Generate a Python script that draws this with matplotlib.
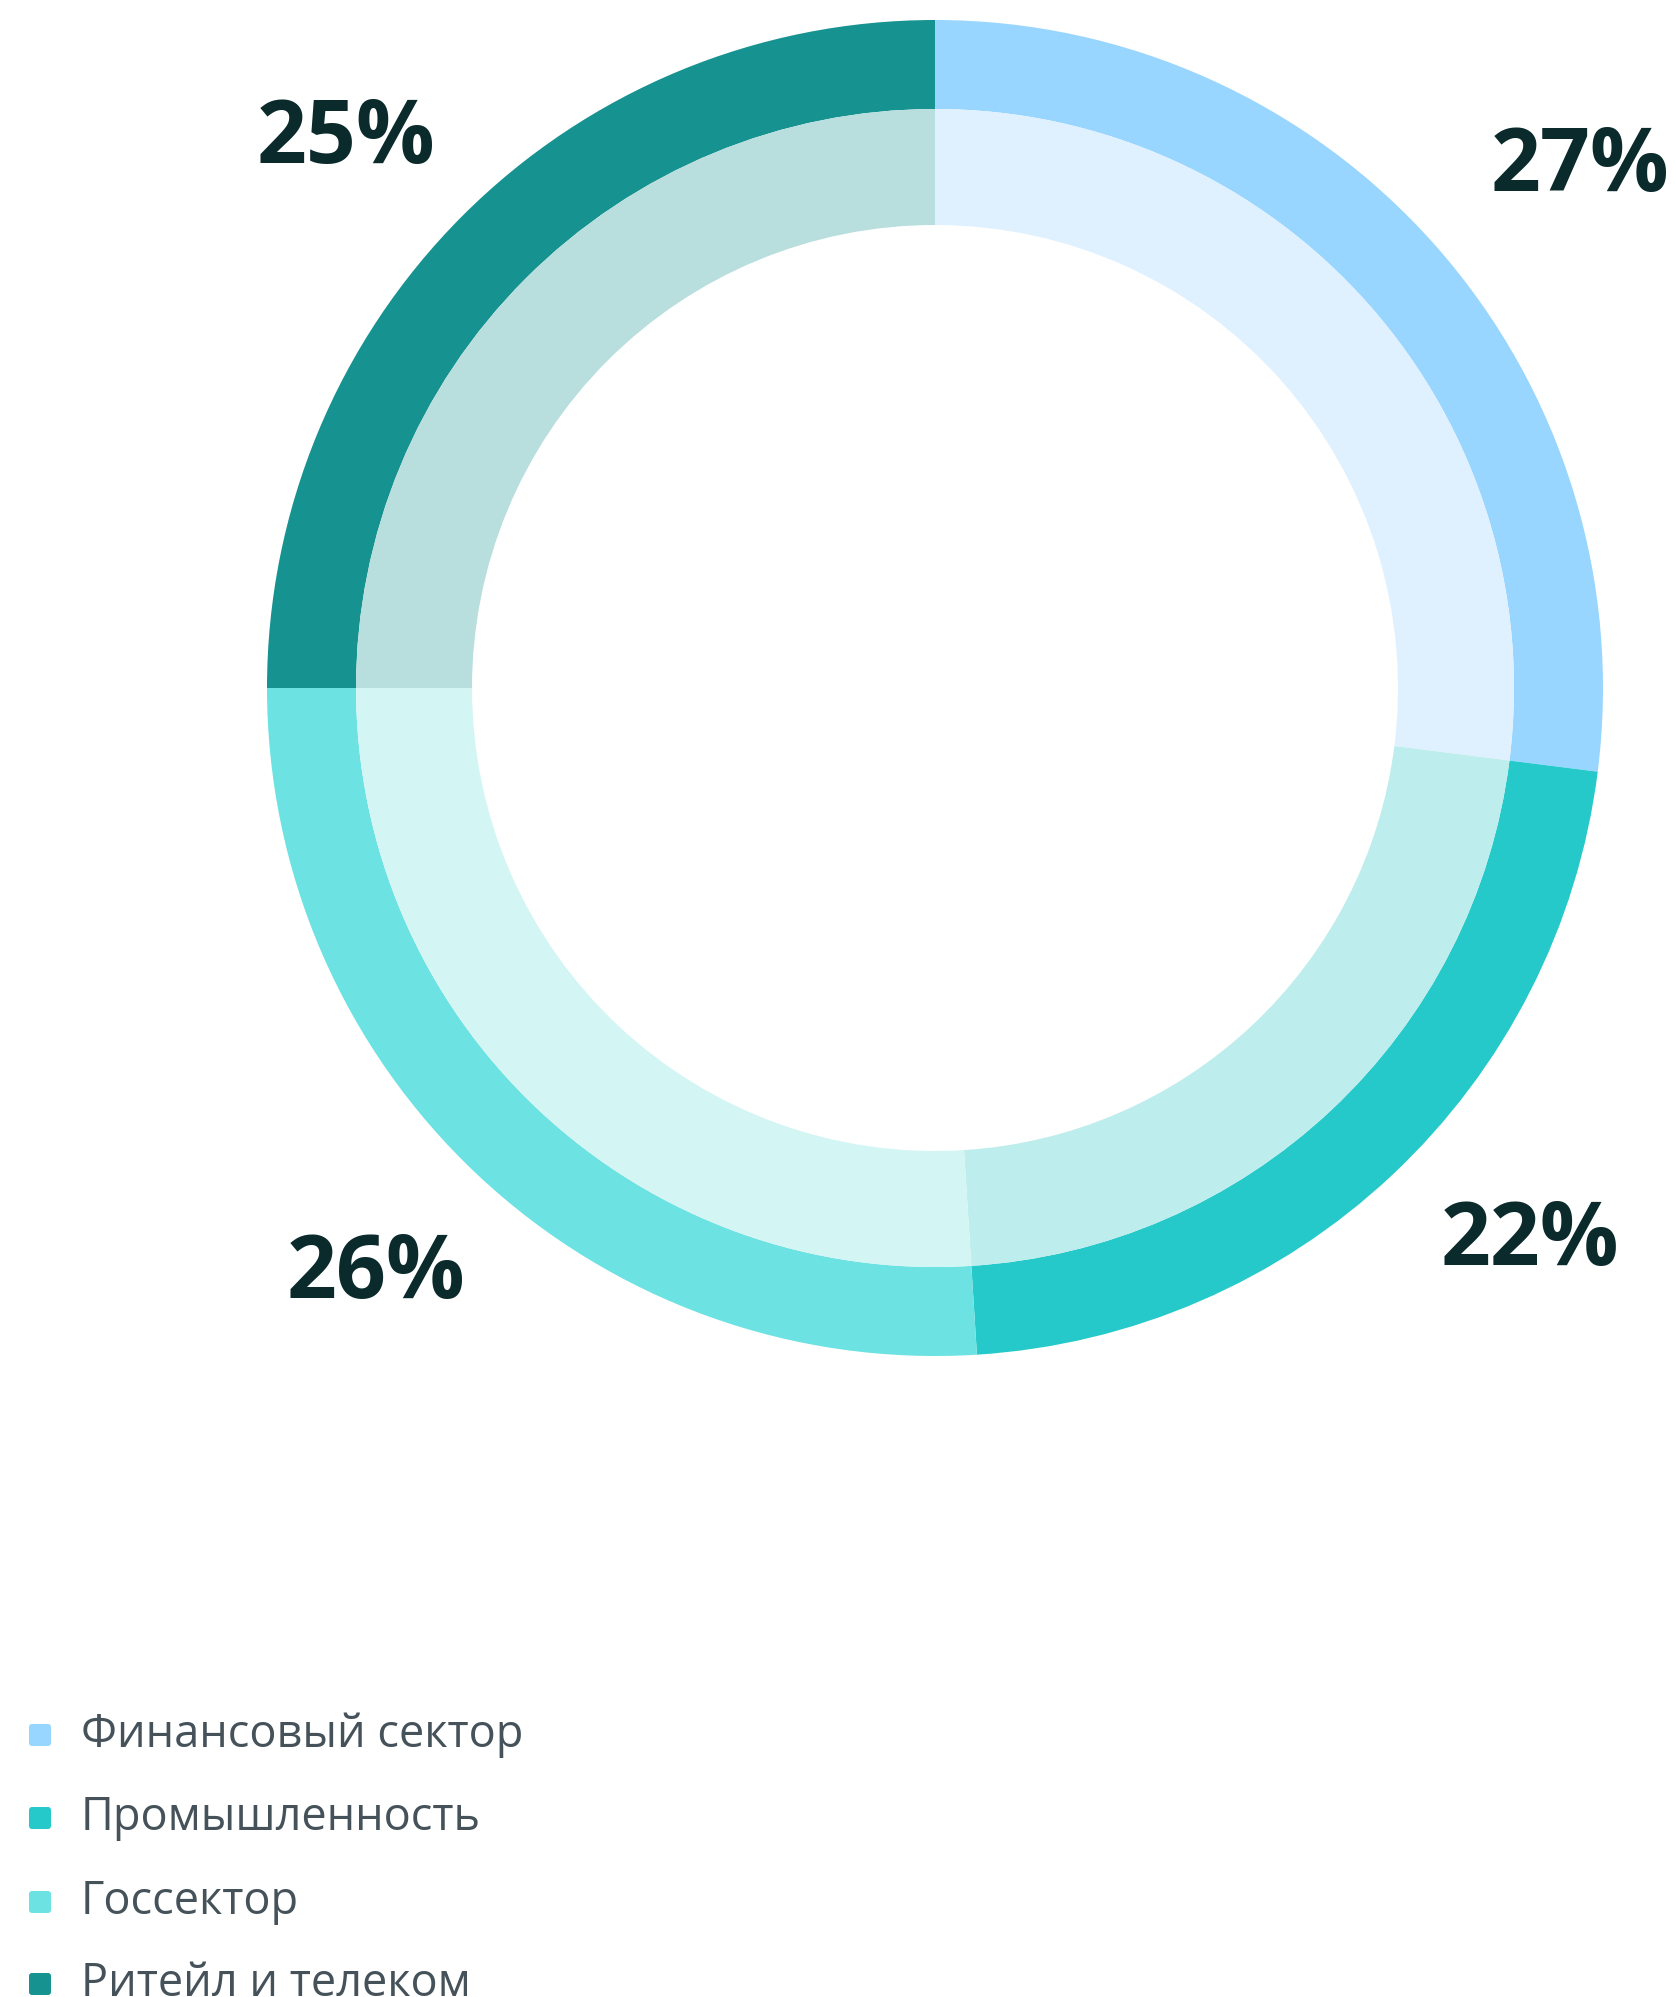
import matplotlib
matplotlib.use("Agg")
import matplotlib.pyplot as plt
from matplotlib.patches import FancyBboxPatch

categories = ["Финансовый сектор", "Промышленность", "Госсектор", "Ритейл и телеком"]
values = [27, 22, 26, 25]
labels = ["27%", "22%", "26%", "25%"]
outer_colors = ["#99D6FF", "#26C9C9", "#6CE2E2", "#169290"]
inner_colors = ["#DFF1FE", "#BDEDEC", "#D3F5F4", "#B8DFDE"]

W, H = 1676, 1997
fig = plt.figure(figsize=(W / 100, H / 100), dpi=100)
ax = fig.add_axes([0, 0, 1, 1])

cx, cy = 935, 1309
R_out, R_mid, R_in = 668, 579, 463

ax.pie(values, radius=R_out, center=(cx, cy), startangle=90, counterclock=False,
       colors=outer_colors, wedgeprops=dict(width=R_out - R_mid, linewidth=0), frame=True)
ax.pie(values, radius=R_mid, center=(cx, cy), startangle=90, counterclock=False,
       colors=inner_colors, wedgeprops=dict(width=R_mid - R_in, linewidth=0), frame=True)
ax.set_xlim(0, W)
ax.set_ylim(0, H)
ax.set_aspect("equal")
ax.axis("off")

label_pos = [(1580, 1829), (1530, 755), (376, 722), (346, 1857)]
for (x, y), t in zip(label_pos, labels):
    ax.text(x, y, t, ha="center", va="center", fontsize=63, fontweight="bold",
            family="Open Sans", color="#0B2A2B")

leg_y = [1997 - 1735, 1997 - 1818, 1997 - 1902, 1997 - 1984]
for yy, name, col in zip(leg_y, categories, outer_colors):
    ax.add_patch(FancyBboxPatch((29, yy - 11), 22, 22, boxstyle="round,pad=0,rounding_size=3",
                                facecolor=col, edgecolor="none"))
    ax.text(81, yy, name, ha="left", va="center", fontsize=32.5, family="Open Sans",
            color="#45525A")

fig.savefig("out.png", dpi=100, facecolor="white")
